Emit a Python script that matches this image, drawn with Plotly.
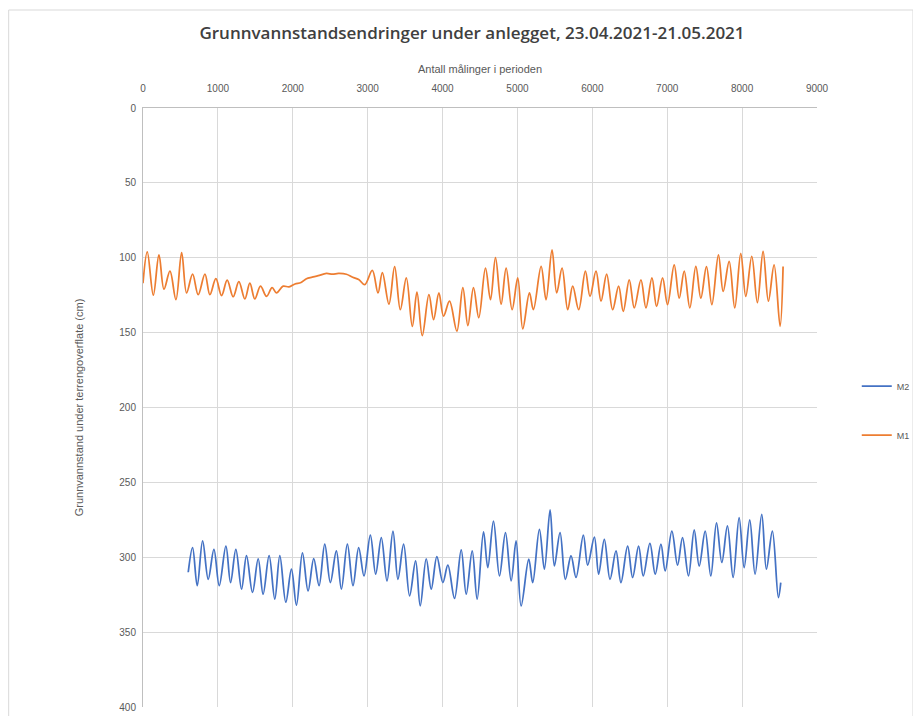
import plotly.graph_objects as go

# Measurement index (x) and depth below ground surface in cm (y), read at turning points
m1_x = [0, 57, 138, 213, 280, 360, 440, 516, 582, 662, 737, 827, 893, 973, 1049, 1124, 1204,
        1280, 1360, 1427, 1493, 1569, 1649, 1724, 1782, 1871, 1950, 2030, 2110, 2182, 2260,
        2340, 2449, 2530, 2610, 2716, 2800, 2880, 2960, 3062, 3138, 3196, 3284, 3360, 3436,
        3516, 3596, 3658, 3729, 3818, 3880, 3951, 4013, 4093, 4191, 4271, 4338, 4413, 4484,
        4573, 4640, 4707, 4782, 4849, 4929, 5004, 5071, 5160, 5213, 5316, 5382, 5462, 5524,
        5596, 5671, 5738, 5818, 5907, 5969, 6049, 6116, 6191, 6271, 6351, 6413, 6493, 6560,
        6649, 6716, 6796, 6858, 6938, 7004, 7093, 7160, 7227, 7302, 7382, 7449, 7524, 7596,
        7684, 7747, 7827, 7902, 7982, 8049, 8129, 8204, 8280, 8351, 8427, 8507, 8547]
m1_y = [117, 96, 125, 98, 121, 109, 128, 96.5, 123.5, 111, 124.7, 111, 124.7, 114, 125.3, 115, 126,
        116, 127.5, 117, 127.5, 119, 125.8, 120, 123.5, 119, 119.5, 117.5, 116.5, 114, 113,
        112, 110.5, 111, 110.5, 111, 113, 114.5, 118, 108.5, 123.5, 110, 131, 106, 134.7,
        113.5, 145.8, 123, 152, 124.7, 141.3, 123.5, 139, 129, 149, 120, 145.3, 120, 140,
        107, 128, 100, 131, 107, 134.7, 113.5, 147.5, 123.5, 134.7, 105.8, 128, 94.7, 123.5,
        107, 134.7, 119, 134.7, 109, 125.8, 109, 129, 111, 134.7, 119, 135.8, 114.7, 133.5,
        114.7, 133.5, 113.5, 132.5, 113.5, 131.3, 104.7, 127, 109, 133.5, 105.8, 127, 106, 131.3,
        98, 122.5, 102.5, 133.5, 97, 125.8, 99, 130, 95.8, 129, 104.7, 145.8, 105.8]

m2_x = [604, 662, 724, 796, 871, 947, 1018, 1107, 1169, 1240, 1316, 1382, 1462, 1538, 1604,
        1684, 1760, 1827, 1907, 1982, 2049, 2129, 2204, 2280, 2351, 2427, 2502, 2582, 2649,
        2729, 2804, 2880, 2951, 3036, 3107, 3182, 3258, 3338, 3404, 3480, 3560, 3640, 3702,
        3782, 3849, 3924, 4004, 4071, 4160, 4249, 4316, 4396, 4462, 4547, 4604, 4680, 4760,
        4840, 4916, 4982, 5049, 5151, 5204, 5293, 5360, 5436, 5493, 5569, 5640, 5716, 5782,
        5880, 5938, 6027, 6084, 6160, 6236, 6316, 6382, 6471, 6538, 6618, 6680, 6769, 6840,
        6916, 6973, 7062, 7138, 7204, 7284, 7360, 7427, 7507, 7582, 7658, 7729, 7804, 7880,
        7960, 8027, 8102, 8173, 8262, 8324, 8404, 8484, 8516]
m2_y = [310, 293.5, 319, 289, 314.7, 294.7, 319, 292.5, 316.9, 294.7, 321.3, 299, 323.5, 301, 324.7,
        299, 328, 299, 330, 308, 332, 297, 322.5, 301, 319, 291.3, 316.9, 295.8, 321.3,
        291.3, 319, 293.5, 312.5, 285.3, 311.3, 286.9, 315.8, 282.5, 314.7, 291.3, 325.8, 302.5, 332.5,
        301, 321.3, 299.6, 316.9, 305.3, 327.5, 295.1, 324.7, 295.8, 328, 283.1, 306.9, 275.8, 312.5,
        283.5, 315.8, 289.1, 332.5, 301.3, 316.9, 281.3, 308, 268.4, 305.8, 283.5, 314.7, 299, 313.5,
        285.3, 305.3, 286.5, 311.3, 288, 314.7, 295.8, 316.9, 292.5, 313.5, 292.5, 312.5, 290.7, 311.3,
        291.3, 309.1, 282.5, 305.3, 286.9, 312.5, 281.8, 305.8, 282.5, 312.5, 277, 303.5, 279.1, 313.5,
        273.5, 306.9, 275.1, 311.3, 271.3, 308, 282.5, 326.9, 316.9]

x_ticks = [0, 1000, 2000, 3000, 4000, 5000, 6000, 7000, 8000, 9000]
y_ticks = [0, 50, 100, 150, 200, 250, 300, 350, 400]

FONT = "Liberation Sans"
GREY = "#595959"

W, H = 913, 708  # page body has an 8px margin

fig = go.Figure()
fig.add_trace(go.Scatter(x=m2_x, y=m2_y, mode="lines", name="M2", legendgroup="a",
                         line=dict(color="#4472C4", width=1.75, shape="spline", smoothing=1.0)))
fig.add_trace(go.Scatter(x=m1_x, y=m1_y, mode="lines", name="M1", legendgroup="b",
                         line=dict(color="#ED7D31", width=1.75, shape="spline", smoothing=1.0)))

fig.update_layout(
    width=W, height=H,
    margin=dict(l=135, r=104, t=100, b=9, autoexpand=False),
    paper_bgcolor="white", plot_bgcolor="white",
    font=dict(family=FONT, color=GREY, size=10),
    title=dict(text="Grunnvannstandsendringer under anlegget, 23.04.2021-21.05.2021",
               x=464 / W, xref="container", xanchor="center",
               y=1 - 25 / H, yref="container", yanchor="middle",
               font=dict(family="Open Sans", size=17, color="#404040", weight=600)),
    xaxis=dict(side="top", range=[0, 9000], tickvals=x_ticks, ticktext=[str(v) for v in x_ticks],
               showgrid=True, gridcolor="#D9D9D9", gridwidth=1, zeroline=False,
               showline=True, linecolor="#BFBFBF", mirror=False, automargin=False,
               ticks="outside", ticklen=11, tickcolor="rgba(0,0,0,0)",
               tickfont=dict(size=10, color=GREY),
               title=dict(text="Antall målinger i perioden", standoff=7,
                          font=dict(size=11, color=GREY))),
    yaxis=dict(range=[400, 0], tickvals=y_ticks, ticktext=[str(v) for v in y_ticks],
               showgrid=True, gridcolor="#D9D9D9", gridwidth=1, zeroline=False,
               showline=True, linecolor="#BFBFBF", automargin=False,
               ticks="outside", ticklen=4, tickcolor="rgba(0,0,0,0)",
               tickfont=dict(size=10, color=GREY),
               title=dict(text="Grunnvannstand under terrengoverflate (cm)", standoff=33,
                          font=dict(size=11, color=GREY))),
    legend=dict(x=1.059, y=0.56, xanchor="left", yanchor="top", traceorder="grouped",
                tracegroupgap=30, font=dict(size=9, color=GREY), bgcolor="rgba(0,0,0,0)",
                itemwidth=30),
    showlegend=True,
)

# outer chart border
fig.add_shape(type="rect", xref="paper", yref="paper",
              x0=(8 - 143) / 674 + 0.001, x1=(913 - 143) / 674,
              y0=-0.2, y1=1 + (108 - 10) / 599,
              line=dict(color="#D9D9D9", width=1), fillcolor="rgba(0,0,0,0)", layer="below")

fig.write_html("out.html")
